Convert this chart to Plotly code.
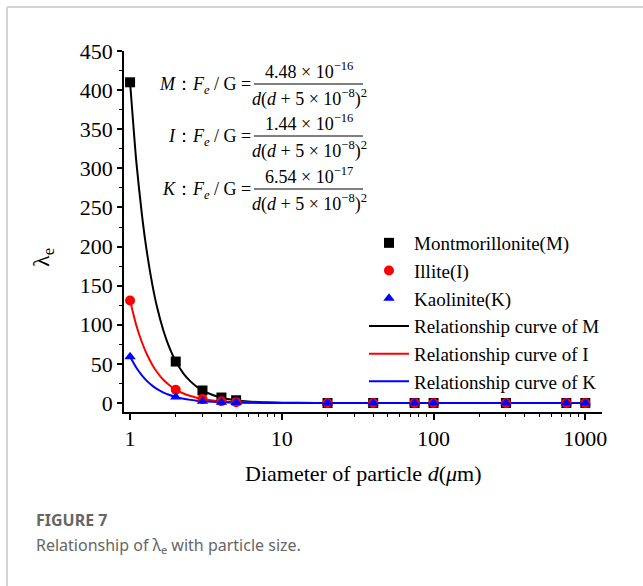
import plotly.graph_objects as go

# ---------------- data ----------------
diam = [1, 2, 3, 4, 5, 20, 40, 75, 100, 300, 750, 1000]
lam_M = [410, 53, 16, 7, 3.5, 0, 0, 0, 0, 0, 0, 0]
lam_I = [131, 17, 5.2, 2.2, 1.1, 0, 0, 0, 0, 0, 0, 0]
lam_K = [59, 7.8, 2.3, 1.0, 0.5, 0, 0, 0, 0, 0, 0, 0]

curve_d = [1, 1.1, 1.2, 1.3, 1.4, 1.5, 1.65, 1.8, 2, 2.25, 2.5, 2.75, 3, 3.5, 4, 4.5, 5,
           6, 7, 8, 10, 13, 20, 1000]
curve_M = [410, 308, 239, 189, 152, 124, 94, 72.7, 53.3, 37.6, 27.6, 20.8, 16.0, 10.2, 6.8,
           4.8, 3.5, 2.0, 1.3, 0.86, 0.44, 0.2, 0.06, 0]
curve_I = [131, 99, 77, 61, 49, 40, 30, 23.4, 17.1, 12.1, 8.9, 6.7, 5.2, 3.3, 2.2,
           1.5, 1.1, 0.66, 0.41, 0.28, 0.14, 0.06, 0.02, 0]
curve_K = [59, 45, 35, 27.6, 22.2, 18.1, 13.7, 10.6, 7.8, 5.5, 4.0, 3.0, 2.3, 1.5, 1.0,
           0.7, 0.5, 0.3, 0.19, 0.13, 0.06, 0.03, 0.01, 0]

x_ticks = [1, 10, 100, 1000]
x_tick_text = ["1", "10", "100", "1000"]
x_minor = [m * 10 ** k for k in range(0, 3) for m in range(2, 10)]

names_pts = ["Montmorillonite(M)", "Illite(I)", "Kaolinite(K)"]
names_cur = ["Relationship curve of M", "Relationship curve of I", "Relationship curve of K"]
colors = ["#000000", "#ff0000", "#0000ff"]
symbols = ["square", "circle", "triangle-up"]

eq_labels = ["<i>M</i>：<i>F<sub>e</sub></i> / G =",
             "<i>I</i>：<i>F<sub>e</sub></i> / G =",
             "<i>K</i>：<i>F<sub>e</sub></i> / G ="]
eq_nums = ["4.48 × 10<sup>−16</sup>", "1.44 × 10<sup>−16</sup>", "6.54 × 10<sup>−17</sup>"]
eq_den = "<i>d</i>(<i>d</i> + 5 × 10<sup>−8</sup>)<sup>2</sup>"

# ---------------- layout geometry (pixels) ----------------
WID, HEI = 643, 586
L, R, T, B = 124, 602, 51, 412
PW, PH = R - L, B - T

def px(x):
    return (x - L) / PW

def py(y):
    return (B - y) / PH

SERIF = "Liberation Serif, Times New Roman, serif"
SANS = "Noto Sans, Open Sans, sans-serif"

fig = go.Figure()

for i, (cy, nm, col) in enumerate(zip([curve_M, curve_I, curve_K], names_cur, colors)):
    fig.add_trace(go.Scatter(x=curve_d, y=cy, mode="lines", name=nm,
                             line=dict(color=col, width=2, shape="spline", smoothing=0.6),
                             legendrank=10 + i))

for i, (vals, nm, col, sym) in enumerate(zip([lam_M, lam_I, lam_K], names_pts, colors, symbols)):
    fig.add_trace(go.Scatter(x=diam, y=vals, mode="markers", name=nm,
                             marker=dict(color=col, symbol=sym, size=10, line=dict(width=0)),
                             legendrank=1 + i))

annotations = []
shapes = []
bar_y = [84, 136, 189]
EQ = 18
for lab, num, by in zip(eq_labels, eq_nums, bar_y):
    annotations.append(dict(xref="paper", yref="paper", x=px(253), y=py(by + 1), xanchor="right",
                            yanchor="middle", text=lab, showarrow=False,
                            font=dict(family=SERIF, size=18, color="black")))
    annotations.append(dict(xref="paper", yref="paper", x=px(309), y=py(by - 14), xanchor="center",
                            yanchor="middle", text=num, showarrow=False,
                            font=dict(family=SERIF, size=EQ, color="black")))
    annotations.append(dict(xref="paper", yref="paper", x=px(309), y=py(by + 14), xanchor="center",
                            yanchor="middle", text=eq_den, showarrow=False,
                            font=dict(family=SERIF, size=EQ, color="black")))
    shapes.append(dict(type="line", xref="paper", yref="paper", x0=px(254), x1=px(363),
                       y0=py(by), y1=py(by), line=dict(color="black", width=1)))

# y axis title
annotations.append(dict(xref="paper", yref="paper", x=px(43), y=py(258), xanchor="center",
                        yanchor="middle", text="λ<sub>e</sub>", textangle=-90, showarrow=False,
                        font=dict(family=SERIF, size=24, color="black")))
# x axis title
annotations.append(dict(xref="paper", yref="paper", x=px(363), y=py(474), xanchor="center",
                        yanchor="middle", text="Diameter of particle <i>d</i>(<i>μ</i>m)",
                        showarrow=False, font=dict(family=SERIF, size=22, color="black")))
# caption
annotations.append(dict(xref="paper", yref="paper", x=px(34), y=py(520), xanchor="left",
                        yanchor="middle", text="<b>FIGURE 7</b>", showarrow=False,
                        font=dict(family=SANS, size=16, color="#666666")))
annotations.append(dict(xref="paper", yref="paper", x=px(34), y=py(545), xanchor="left",
                        yanchor="middle", text="Relationship of λ<sub>e</sub> with particle size.",
                        showarrow=False, font=dict(family=SANS, size=16, color="#666666")))

# page frame
shapes.append(dict(type="line", xref="paper", yref="paper", x0=px(7), x1=px(7),
                   y0=py(7), y1=py(600), line=dict(color="#d4d4d4", width=2)))
shapes.append(dict(type="line", xref="paper", yref="paper", x0=px(7), x1=px(650),
                   y0=py(7), y1=py(7), line=dict(color="#d4d4d4", width=2)))

fig.update_layout(
    width=WID, height=HEI,
    margin=dict(l=L, r=WID - R, t=T, b=HEI - B, pad=0),
    paper_bgcolor="white", plot_bgcolor="white",
    showlegend=True,
    legend=dict(x=px(364), y=py(224), xanchor="left", yanchor="top",
                bgcolor="rgba(0,0,0,0)", borderwidth=0, tracegroupgap=0,
                font=dict(family=SERIF, size=19, color="black"), itemwidth=40),
    annotations=annotations, shapes=shapes,
    font=dict(family=SERIF, color="black"),
)

fig.update_xaxes(type="log", range=[-0.04, 3.11], tickmode="array", tickvals=x_ticks,
                 ticktext=x_tick_text, showline=True, linecolor="black", linewidth=1.5,
                 ticks="outside", ticklen=6, tickwidth=1.5, tickcolor="black",
                 showgrid=False, zeroline=False,
                 tickfont=dict(family=SERIF, size=22, color="black"),
                 minor=dict(ticks="outside", ticklen=3, tickwidth=1, tickcolor="black",
                            tickmode="array", tickvals=x_minor, showgrid=False))
fig.update_yaxes(range=[-11.5, 450], tick0=0, dtick=50, showline=True, linecolor="black",
                 linewidth=1.5, ticks="outside", ticklen=5, tickwidth=1.5, tickcolor="black",
                 showgrid=False, zeroline=False,
                 tickfont=dict(family=SERIF, size=22, color="black"),
                 minor=dict(ticks="outside", ticklen=3, tickwidth=1, tickcolor="black",
                            dtick=25, showgrid=False))

fig.write_html("out.html")
